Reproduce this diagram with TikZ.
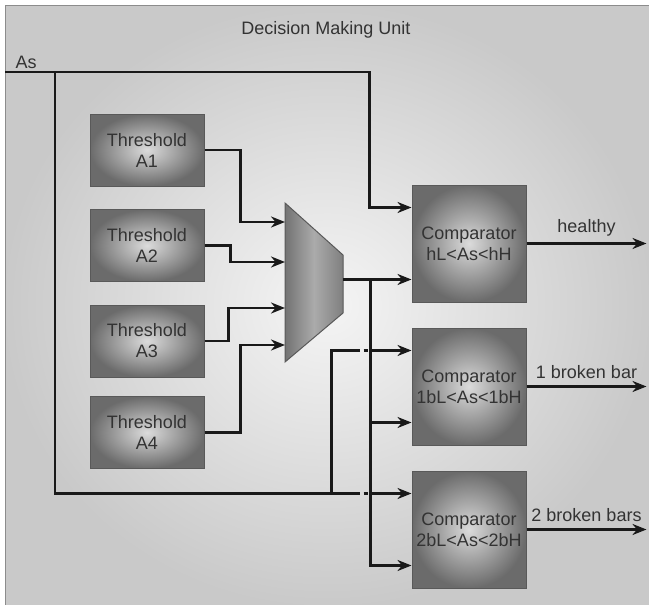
\documentclass[tikz,border=0pt]{standalone}
\usepackage{fontspec}
\setmainfont{Liberation Sans}
\usetikzlibrary{arrows.meta}

\begin{document}
\begin{tikzpicture}[x=1pt,y=-1pt,
  every node/.style={font=\fontsize{18}{21}\selectfont, text=black!80},
  block/.style={draw=black!65, line width=1pt, inner color=black!14, outer color=black!58, align=center, minimum width=114pt},
  thr/.style={block, minimum height=72pt},
  cmp/.style={block, minimum height=117pt},
  wire/.style={line width=2.5pt, black!90},
  arr/.style={wire, -{Stealth[length=14pt,width=11pt]}},
  dd/.style={arr, dash pattern=on 0pt off 4pt on 4pt off 4pt on 60pt}
]
\useasboundingbox (0,0) rectangle (649,605);
\shade[inner color=black!4, outer color=black!21, draw=black!45, line width=1pt] (5,5) rectangle (649,605);

\node (title) at (326,30) {Decision Making Unit};
\node[anchor=base west] (aslbl) at (12,68) {As};

\node[thr] (th1) at (147,150) {Threshold\\A1};
\node[thr] (th2) at (147,245.5) {Threshold\\A2};
\node[thr] (th3) at (147,341) {Threshold\\A3};
\node[thr] (th4) at (147,432.5) {Threshold\\A4};

\node[cmp] (cmp1) at (469,243.5) {Comparator\\hL<As<hH};
\node[cmp] (cmp2) at (469,386.5) {Comparator\\1bL<As<1bH};
\node[cmp] (cmp3) at (469,529.5) {Comparator\\2bL<As<2bH};

\shade[draw=black!65, line width=1pt, left color=black!55, right color=black!50, middle color=black!33]
  (285,203) -- (343,255) -- (343,313) -- (285,362) -- cycle;
\coordinate (mi1) at (285,222);
\coordinate (mi2) at (285,262);
\coordinate (mi3) at (285,308);
\coordinate (mi4) at (285,345);
\coordinate (mo) at (343,279.5);

\coordinate (as) at (5,72);
\coordinate (tap) at (55,72);
\coordinate (split) at ([xshift=-80pt,yshift=36pt]cmp3.west);
\coordinate (bus) at ([xshift=-41pt,yshift=-36pt]cmp1.west);

\draw[arr] (th1.east) -- ++(36,0) |- (mi1);
\draw[arr] (th2.east) -- ++(26,0) |- (mi2);
\draw[arr] (th3.east) -- ++(24,0) |- (mi3);
\draw[arr] (th4.east) -- ++(36,0) |- (mi4);

\draw[arr] (as) -| ([xshift=-42pt,yshift=36pt]cmp1.west) -- ([yshift=36pt]cmp1.west);
\draw[wire] (tap) |- ([xshift=28pt]split);
\draw[dd] ([xshift=28pt]split) -- ([yshift=36pt]cmp3.west);
\draw[wire] (split) |- ([xshift=-52pt,yshift=36pt]cmp2.west);
\draw[dd] ([xshift=-52pt,yshift=36pt]cmp2.west) -- ([yshift=36pt]cmp2.west);

\draw[arr] (mo) -- ([yshift=-36pt]cmp1.west);
\draw[arr] (bus) |- ([yshift=-36pt]cmp2.west);
\draw[arr] (bus) |- ([yshift=-36pt]cmp3.west);

\draw[arr] (cmp1.east) -- ++(120,0) node[midway,above=3pt] {healthy};
\draw[arr] (cmp2.east) -- ++(120,0) node[midway,above=3pt] {1 broken bar};
\draw[arr] (cmp3.east) -- ++(120,0) node[midway,above=3pt] {2 broken bars};
\end{tikzpicture}
\end{document}
